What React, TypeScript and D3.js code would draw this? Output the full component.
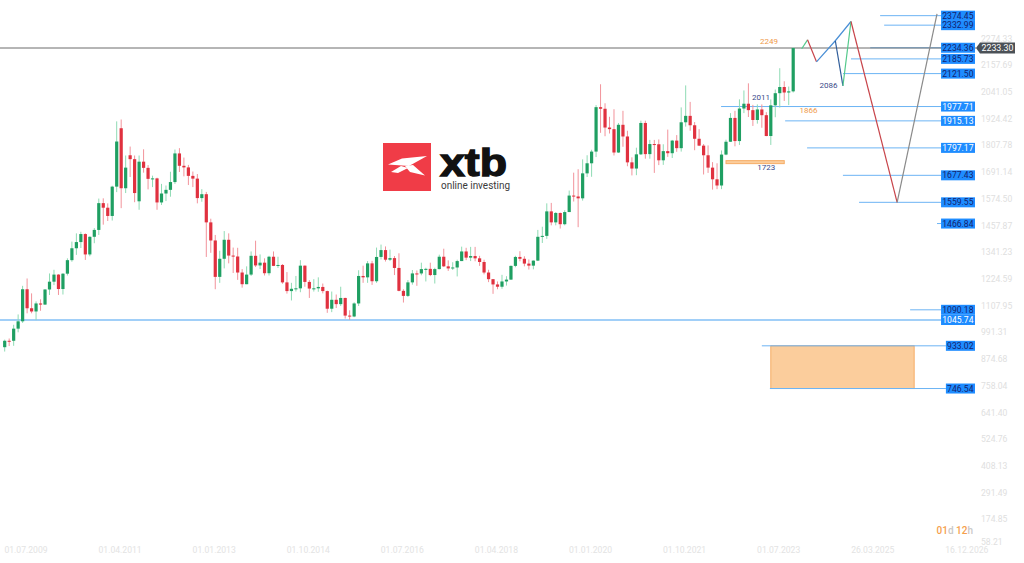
import React from "react";
import * as d3 from "d3";

// Monthly candles, Jul 2009 .. Mar 2024
const opens = [
  927, 955, 955, 1008, 1040, 1180,
  1097, 1083, 1118, 1113, 1179, 1213, 1244, 1181, 1248, 1307, 1359, 1386,
  1421, 1332, 1409, 1439, 1556, 1536, 1500, 1628, 1883, 1621, 1765, 1748,
  1564, 1737, 1710, 1662, 1664, 1559, 1598, 1614, 1648, 1773, 1719, 1712,
  1675, 1663, 1578, 1595, 1472, 1393, 1234, 1313, 1396, 1327, 1323, 1253,
  1202, 1244, 1326, 1284, 1296, 1250, 1322, 1282, 1286, 1210, 1172, 1182,
  1184, 1283, 1212, 1183, 1184, 1190, 1172, 1095, 1134, 1115, 1142, 1065,
  1061, 1118, 1238, 1232, 1293, 1215, 1321, 1351, 1309, 1316, 1273, 1173,
  1151, 1210, 1249, 1249, 1268, 1269, 1242, 1268, 1322, 1280, 1271, 1275,
  1303, 1345, 1318, 1325, 1315, 1299, 1253, 1224, 1201, 1191, 1214, 1222,
  1282, 1321, 1313, 1292, 1283, 1305, 1409, 1413, 1520, 1472, 1513, 1464,
  1517, 1589, 1585, 1577, 1686, 1730, 1781, 1975, 1968, 1886, 1879, 1777,
  1898, 1847, 1734, 1707, 1769, 1906, 1770, 1814, 1813, 1743, 1783, 1774,
  1829, 1796, 1909, 1937, 1896, 1837, 1807, 1765, 1711, 1660, 1633, 1768,
  1824, 1928, 1827, 1969, 1990, 1962, 1919, 1965, 1940, 1849, 1983, 2036,
  2063, 2039, 2044,
];
const highs = [
  960, 965, 1025, 1070, 1195, 1227,
  1162, 1127, 1136, 1180, 1249, 1265, 1246, 1250, 1315, 1388, 1424, 1431,
  1424, 1411, 1447, 1576, 1577, 1555, 1632, 1913, 1921, 1764, 1803, 1764,
  1764, 1791, 1722, 1676, 1667, 1640, 1633, 1693, 1790, 1796, 1755, 1723,
  1694, 1683, 1617, 1605, 1488, 1417, 1348, 1434, 1424, 1362, 1361, 1268,
  1280, 1345, 1392, 1332, 1315, 1326, 1345, 1322, 1290, 1255, 1208, 1238,
  1307, 1284, 1220, 1224, 1232, 1205, 1174, 1170, 1157, 1191, 1143, 1088,
  1123, 1263, 1283, 1303, 1304, 1362, 1375, 1367, 1353, 1325, 1337, 1180,
  1220, 1264, 1262, 1296, 1274, 1296, 1274, 1331, 1357, 1306, 1298, 1309,
  1366, 1361, 1365, 1365, 1326, 1309, 1265, 1224, 1214, 1243, 1237, 1284,
  1326, 1346, 1324, 1310, 1306, 1439, 1453, 1555, 1557, 1517, 1515, 1525,
  1611, 1689, 1704, 1747, 1765, 1789, 1984, 2075, 1992, 1933, 1966, 1906,
  1959, 1872, 1756, 1798, 1916, 1916, 1832, 1832, 1834, 1813, 1877, 1832,
  1853, 1974, 2070, 1998, 1910, 1879, 1814, 1808, 1735, 1730, 1786, 1833,
  1949, 1959, 2009, 2048, 2079, 1985, 1987, 1987, 1953, 2009, 2052, 2145,
  2088, 2065, 2236,
];
const lows = [
  908, 932, 933, 992, 1033, 1075,
  1075, 1045, 1086, 1112, 1155, 1198, 1155, 1157, 1240, 1300, 1330, 1360,
  1308, 1324, 1381, 1417, 1462, 1478, 1480, 1604, 1534, 1600, 1670, 1560,
  1527, 1689, 1616, 1626, 1527, 1548, 1565, 1584, 1640, 1692, 1673, 1635,
  1626, 1555, 1562, 1321, 1339, 1180, 1208, 1271, 1293, 1251, 1221, 1187,
  1202, 1238, 1277, 1268, 1240, 1240, 1281, 1273, 1204, 1161, 1131, 1170,
  1167, 1191, 1142, 1170, 1169, 1162, 1077, 1080, 1098, 1107, 1052, 1046,
  1058, 1107, 1208, 1208, 1199, 1208, 1310, 1301, 1303, 1242, 1171, 1122,
  1146, 1200, 1195, 1241, 1214, 1237, 1205, 1267, 1277, 1260, 1264, 1236,
  1303, 1307, 1303, 1302, 1282, 1245, 1211, 1160, 1180, 1182, 1196, 1221,
  1276, 1302, 1280, 1266, 1267, 1303, 1382, 1400, 1459, 1459, 1445, 1459,
  1517, 1563, 1451, 1567, 1670, 1671, 1757, 1863, 1848, 1860, 1764, 1775,
  1802, 1717, 1677, 1678, 1766, 1750, 1750, 1688, 1722, 1723, 1758, 1753,
  1780, 1781, 1890, 1872, 1787, 1805, 1681, 1688, 1615, 1617, 1617, 1765,
  1823, 1804, 1810, 1949, 1932, 1893, 1903, 1885, 1848, 1810, 1931, 1973,
  2002, 1984, 2039,
];
const closes = [
  955, 951, 1008, 1040, 1180, 1097,
  1083, 1118, 1113, 1179, 1213, 1244, 1181, 1248, 1307, 1359, 1386, 1421,
  1332, 1409, 1439, 1556, 1536, 1500, 1628, 1825, 1621, 1711, 1748, 1600,
  1737, 1710, 1662, 1664, 1559, 1598, 1614, 1648, 1773, 1719, 1712, 1675,
  1663, 1578, 1595, 1472, 1393, 1234, 1313, 1396, 1327, 1323, 1253, 1202,
  1244, 1326, 1284, 1296, 1250, 1322, 1282, 1286, 1210, 1172, 1182, 1184,
  1283, 1212, 1183, 1184, 1190, 1172, 1095, 1134, 1115, 1142, 1065, 1061,
  1118, 1238, 1232, 1293, 1215, 1321, 1351, 1309, 1316, 1273, 1173, 1151,
  1210, 1249, 1247, 1268, 1269, 1242, 1268, 1322, 1280, 1271, 1275, 1303,
  1345, 1318, 1325, 1315, 1299, 1253, 1224, 1201, 1191, 1214, 1222, 1282,
  1321, 1313, 1292, 1283, 1305, 1409, 1413, 1520, 1472, 1513, 1464, 1517,
  1589, 1585, 1577, 1686, 1730, 1781, 1975, 1968, 1886, 1879, 1777, 1898,
  1847, 1734, 1707, 1769, 1906, 1770, 1814, 1813, 1743, 1783, 1774, 1829,
  1796, 1909, 1937, 1896, 1837, 1807, 1765, 1711, 1660, 1633, 1768, 1824,
  1928, 1827, 1969, 1990, 1962, 1919, 1965, 1940, 1849, 1983, 2036, 2063,
  2039, 2044, 2233,
];

const currentPrice = 2233.3;

const yTicks = [
  2274.33, 2157.69, 2041.05, 1924.42, 1807.78, 1691.14, 1574.5, 1457.87,
  1341.23, 1224.59, 1107.95, 991.31, 874.68, 758.04, 641.4, 524.76, 408.13,
  291.49, 174.85, 58.21,
];

const dateLabels = [
  "01.07.2009", "01.04.2011", "01.01.2013", "01.10.2014", "01.07.2016",
  "01.04.2018", "01.01.2020", "01.10.2021", "01.07.2023", "26.03.2025",
  "16.12.2026",
];
const dateTickIndex = [4.75, 25.75, 46.75, 67.75, 88.75, 109.75, 130.75, 151.75, 172.75, 193.75, 214.75];

// Horizontal levels (value, start index in months)
const levelValues = [2374.45, 2332.99, 2234.36, 2185.73, 2121.5, 1977.71, 1915.13, 1797.17, 1677.43, 1559.55, 1466.84, 1090.18, 1045.74, 933.02, 746.54];
const levelStart = [195.4, 196.3, 193.2, 188.9, 187.1, 159.9, 174.2, 179.1, 187.1, 190.7, 208.1, 202.1, -1.1, 169.0, 170.8];
const levelLightText = [1977.71, 1915.13, 1797.17, 1045.74];

// Zone rectangles (index range, value range)
const zoneIndex = [171.0, 203.0];
const zoneValues = [933.02, 746.54];
const smallZoneIndex = [161.0, 174.0];
const smallZoneValue = 1735;

// Projection path segments: [index, value] pairs
const projSegments = [
  { pts: [[177.9, 2230], [179.2, 2269]], kind: "up" },
  { pts: [[179.2, 2269], [181.2, 2173]], kind: "down" },
  { pts: [[181.2, 2173], [185.4, 2265], [188.9, 2349]], kind: "blue" },
  { pts: [[185.4, 2265], [187.1, 2068]], kind: "navy" },
  { pts: [[187.1, 2068], [188.9, 2349]], kind: "up" },
  { pts: [[188.9, 2349], [199.2, 1559.55]], kind: "down" },
  { pts: [[199.2, 1559.55], [208.1, 2382]], kind: "grey" },
];

// Annotation texts
const annotations = [
  { text: "2249", idx: 170.6, val: 2249, kind: "orange" },
  { text: "2011", idx: 168.8, val: 2007, kind: "navy" },
  { text: "1866", idx: 179.4, val: 1950, kind: "orange" },
  { text: "2086", idx: 183.9, val: 2057, kind: "navy" },
  { text: "1723", idx: 170.0, val: 1700, kind: "navy" },
];

const segColor: Record<string, string> = {
  up: "#53c98b",
  down: "#c8454b",
  blue: "#4a8fd6",
  navy: "#2f5d9a",
  grey: "#8a8a8a",
};

export default function App() {
  const x = d3.scaleLinear().domain([0, 176]).range([4.7, 793.2]);
  const y = d3.scaleLinear().domain([1045.74, 2233.3]).range([320, 48]);
  const line = d3.line<number[]>().x((d) => x(d[0])).y((d) => y(d[1]));

  const font = "Roboto, 'Noto Sans', sans-serif";
  const labelRight = 975;
  const boxH = 10;

  return (
    <svg
      width={1024}
      height={563}
      style={{ position: "fixed", left: 0, top: 0, background: "#fff" }}
      fontFamily={font}
    >
      <rect x={0} y={0} width={1024} height={563} fill="#fff" />

      {/* orange zones */}
      <rect
        x={x(zoneIndex[0])}
        y={y(zoneValues[0])}
        width={x(zoneIndex[1]) - x(zoneIndex[0])}
        height={y(zoneValues[1]) - y(zoneValues[0])}
        fill="#fbcd9c"
        stroke="#f6ad66"
        strokeWidth={1}
      />
      <rect
        x={x(smallZoneIndex[0])}
        y={y(smallZoneValue) - 1.5}
        width={x(smallZoneIndex[1]) - x(smallZoneIndex[0])}
        height={3}
        fill="#fbcd9c"
        stroke="#f6ad66"
        strokeWidth={1}
      />

      {/* level lines */}
      {levelValues.map((v, i) => {
        const tw = v.toFixed(2).length * 4.85;
        return (
          <line
            key={"l" + i}
            x1={x(levelStart[i])}
            x2={labelRight - tw}
            y1={y(v)}
            y2={y(v)}
            stroke={v === 1045.74 ? "#45a0f2" : "#6cb4f4"}
            strokeWidth={v === 1045.74 ? 1.2 : 1}
          />
        );
      })}

      {/* current price line */}
      <line x1={0} x2={976} y1={y(currentPrice)} y2={y(currentPrice)} stroke="#6d6d6d" strokeWidth={1} />

      {/* candles */}
      {closes.map((c, i) => {
        const o = opens[i];
        const up = c >= o;
        const cx = x(i);
        const top = y(Math.max(o, c));
        const bot = y(Math.min(o, c));
        return (
          <g key={"c" + i}>
            <line
              x1={cx}
              x2={cx}
              y1={y(highs[i])}
              y2={y(lows[i])}
              stroke={up ? "#8fdbb4" : "#f2939b"}
              strokeWidth={1}
            />
            <rect
              x={cx - 1.6}
              y={top}
              width={3.2}
              height={Math.max(1, bot - top)}
              fill={up ? "#1f9f62" : "#e0313f"}
            />
          </g>
        );
      })}

      {/* projections */}
      {projSegments.map((s, i) => (
        <path key={"p" + i} d={line(s.pts) || ""} fill="none" stroke={segColor[s.kind]} strokeWidth={1.2} />
      ))}

      {/* annotations */}
      {annotations.map((a, i) => (
        <text
          key={"a" + i}
          x={x(a.idx)}
          y={y(a.val)}
          textAnchor="middle"
          fontSize={8}
          fill={a.kind === "orange" ? "#ef9a4a" : "#3b4a8a"}
        >
          {a.text}
        </text>
      ))}

      {/* level labels */}
      {levelValues.map((v, i) => {
        const t = v.toFixed(2);
        const tw = t.length * 4.85;
        const light = levelLightText.includes(v);
        return (
          <g key={"lb" + i}>
            <rect x={labelRight - tw} y={y(v) - boxH / 2} width={tw} height={boxH} fill="#1e8cff" />
            <text
              x={labelRight - 1.5}
              y={y(v)}
              dy="0.35em"
              textAnchor="end"
              fontSize={8.6}
              fill={light ? "#ffffff" : "#14226e"}
            >
              {t}
            </text>
          </g>
        );
      })}

      {/* y axis labels */}
      {yTicks.map((v, i) => (
        <text
          key={"y" + i}
          x={981}
          y={Math.min(y(v), 541.5)}
          dy="0.35em"
          fontSize={8.6}
          fill="#e0e0e0"
        >
          {v.toFixed(2)}
        </text>
      ))}

      {/* current price tag */}
      <path
        d={`M976,${y(currentPrice)} L980,${y(currentPrice) - 5.5} L1015,${y(currentPrice) - 5.5} L1015,${y(currentPrice) + 5.5} L980,${y(currentPrice) + 5.5} Z`}
        fill="#4b5157"
      />
      <text x={997.5} y={y(currentPrice)} dy="0.35em" textAnchor="middle" fontSize={8.8} fill="#fff">
        {currentPrice.toFixed(2)}
      </text>

      {/* date labels */}
      {dateLabels.map((d, i) => (
        <text key={"d" + i} x={x(dateTickIndex[i])} y={550} dy="0.35em" textAnchor="middle" fontSize={8.6} fill="#e3e3e3">
          {d}
        </text>
      ))}

      {/* countdown */}
      <text x={936.5} y={530} dy="0.35em" fontSize={10} fontWeight={500}>
        <tspan fill="#f5a04c">01</tspan>
        <tspan fill="#c9c9c9">d </tspan>
        <tspan fill="#f5a04c">12</tspan>
        <tspan fill="#c9c9c9">h</tspan>
      </text>

      {/* logo */}
      <rect x={383} y={143} width={48} height={48} fill="#f03c47" />
      <path d="M388,164.5 L402,158.5 L427,156 L409,166 Z" fill="#fff" />
      <path d="M405,166 L413,165 L425,175.5 L410,172 Z" fill="#fff" />
      <path d="M391,172 L401,166 L408,168 L398,173 Z" fill="#fff" />
      <text
        x={440}
        y={176}
        fontFamily="'Liberation Sans', Arial, sans-serif"
        fontWeight={900}
        fontSize={38}
        fill="#111"
        stroke="#111"
        strokeWidth={1.3}
        textLength={67}
        lengthAdjust="spacingAndGlyphs"
      >
        xtb
      </text>
      <text x={441} y={189} fontSize={10} fill="#3a3a3a" textLength={69} lengthAdjust="spacingAndGlyphs">
        online investing
      </text>
    </svg>
  );
}
